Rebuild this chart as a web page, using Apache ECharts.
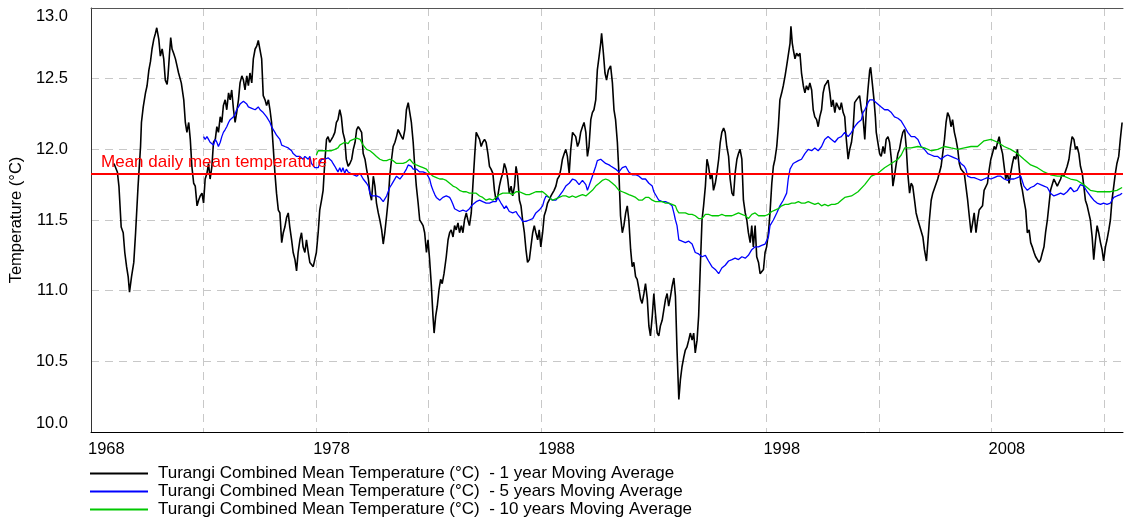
<!DOCTYPE html>
<html>
<head>
<meta charset="utf-8">
<title>Turangi Combined Mean Temperature</title>
<script src="https://cdn.jsdelivr.net/npm/echarts@6/dist/echarts.min.js"></script>
<style>
  html, body { margin: 0; padding: 0; background: #fff; }
  #chart { width: 1126px; height: 519px; }
</style>
</head>
<body>
<div id="chart"></div>
<script>
// Axis origin year and right-hand limit (in years after the origin)
const START_YEAR = 1968;
const X_SPAN = 45.84;
const MEAN_TEMP = 11.83;

const seriesNames = [
  'Turangi Combined Mean Temperature (°C)  - 1 year Moving Average',
  'Turangi Combined Mean Temperature (°C)  - 5 years Moving Average',
  'Turangi Combined Mean Temperature (°C)  - 10 years Moving Average'
];

// [decimal year, °C]
const avg1Year = [
[1969.02,11.90],[1969.17,11.84],[1969.24,11.74],[1969.34,11.45],[1969.43,11.41],[1969.50,11.27],[1969.58,11.17],[1969.65,11.10],[1969.71,10.99],[1969.80,11.10],[1969.90,11.20],[1969.98,11.41],[1970.09,11.74],[1970.20,12.02],[1970.24,12.19],[1970.32,12.30],[1970.42,12.40],[1970.49,12.45],[1970.57,12.56],[1970.64,12.62],[1970.71,12.71],[1970.79,12.78],[1970.86,12.82],[1970.92,12.86],[1971.01,12.78],[1971.08,12.66],[1971.16,12.71],[1971.23,12.64],[1971.30,12.49],[1971.38,12.46],[1971.42,12.52],[1971.48,12.66],[1971.54,12.79],[1971.60,12.71],[1971.67,12.68],[1971.75,12.64],[1971.82,12.59],[1971.89,12.54],[1972.01,12.47],[1972.12,12.35],[1972.19,12.19],[1972.26,12.12],[1972.34,12.19],[1972.41,12.07],[1972.48,11.88],[1972.56,11.76],[1972.63,11.74],[1972.71,11.60],[1972.78,11.64],[1972.85,11.67],[1972.93,11.69],[1973.00,11.62],[1973.07,11.79],[1973.15,11.83],[1973.22,11.90],[1973.29,11.79],[1973.37,11.88],[1973.44,12.05],[1973.52,12.07],[1973.59,12.16],[1973.66,12.12],[1973.74,12.23],[1973.81,12.19],[1973.88,12.31],[1973.96,12.35],[1974.03,12.28],[1974.11,12.40],[1974.18,12.35],[1974.25,12.42],[1974.33,12.28],[1974.40,12.19],[1974.47,12.26],[1974.55,12.35],[1974.62,12.47],[1974.70,12.52],[1974.77,12.49],[1974.84,12.42],[1974.92,12.52],[1974.99,12.45],[1975.06,12.54],[1975.14,12.47],[1975.21,12.64],[1975.29,12.71],[1975.36,12.73],[1975.43,12.77],[1975.51,12.78],[1975.58,12.64],[1975.65,12.38],[1975.73,12.35],[1975.80,12.31],[1975.88,12.35],[1975.95,12.28],[1976.02,12.19],[1976.10,12.00],[1976.17,11.83],[1976.24,11.69],[1976.32,11.57],[1976.39,11.55],[1976.47,11.34],[1976.54,11.41],[1976.61,11.45],[1976.69,11.52],[1976.76,11.55],[1976.83,11.45],[1976.91,11.36],[1976.98,11.27],[1977.06,11.22],[1977.13,11.14],[1977.20,11.27],[1977.28,11.36],[1977.35,11.41],[1977.42,11.31],[1977.50,11.27],[1977.57,11.36],[1977.65,11.27],[1977.72,11.20],[1977.79,11.20],[1977.87,11.17],[1977.94,11.22],[1978.01,11.27],[1978.09,11.41],[1978.16,11.57],[1978.24,11.64],[1978.31,11.71],[1978.38,11.90],[1978.46,12.07],[1978.53,12.09],[1978.60,12.05],[1978.68,12.07],[1978.75,12.09],[1978.83,12.12],[1978.90,12.19],[1978.97,12.21],[1979.05,12.28],[1979.12,12.23],[1979.19,12.12],[1979.27,12.07],[1979.34,11.93],[1979.42,11.88],
[1979.50,11.90],[1979.58,11.93],[1979.65,12.00],[1979.73,12.05],[1979.80,12.14],[1979.87,12.16],[1979.95,12.14],[1980.02,12.12],[1980.09,11.97],[1980.17,11.93],[1980.24,11.86],[1980.32,11.79],[1980.39,11.69],[1980.46,11.64],[1980.54,11.81],[1980.61,11.74],[1980.68,11.62],[1980.76,11.55],[1980.83,11.50],[1980.91,11.43],[1980.98,11.33],[1981.05,11.41],[1981.13,11.53],[1981.20,11.64],[1981.27,11.81],[1981.35,11.93],[1981.42,12.02],[1981.50,12.05],[1981.57,12.09],[1981.64,12.14],[1981.72,12.14],[1981.79,12.09],[1981.86,12.07],[1981.94,12.14],[1982.01,12.28],[1982.09,12.33],[1982.16,12.26],[1982.23,12.19],[1982.31,12.05],[1982.38,11.88],[1982.45,11.74],[1982.53,11.62],[1982.60,11.50],[1982.68,11.48],[1982.75,11.46],[1982.82,11.41],[1982.90,11.27],[1982.97,11.36],[1983.04,11.22],[1983.12,11.03],[1983.19,10.82],[1983.24,10.70],[1983.31,10.82],[1983.38,10.89],[1983.46,11.01],[1983.53,11.08],[1983.60,11.05],[1983.68,11.12],[1983.78,11.24],[1983.86,11.36],[1983.93,11.41],[1984.00,11.43],[1984.08,11.38],[1984.15,11.46],[1984.22,11.43],[1984.30,11.48],[1984.37,11.41],[1984.45,11.46],[1984.52,11.41],[1984.59,11.50],[1984.67,11.55],[1984.74,11.50],[1984.81,11.46],[1984.89,11.55],[1984.96,11.74],[1985.04,11.95],[1985.11,12.12],[1985.18,12.12],[1985.26,12.07],[1985.33,12.02],[1985.40,12.05],[1985.48,12.07],[1985.55,12.05],[1985.63,11.97],[1985.70,11.88],[1985.77,11.86],[1985.85,11.83],[1985.92,11.71],[1985.99,11.64],[1986.07,11.67],[1986.14,11.74],[1986.21,11.79],[1986.29,11.83],[1986.36,11.90],[1986.44,11.86],[1986.51,11.79],[1986.58,11.69],[1986.66,11.74],[1986.73,11.67],[1986.81,11.74],[1986.88,11.88],[1986.95,11.81],[1987.03,11.64],[1987.10,11.60],[1987.17,11.50],[1987.25,11.41],[1987.32,11.29],[1987.39,11.20],[1987.47,11.22],[1987.54,11.31],[1987.62,11.41],[1987.69,11.46],[1987.76,11.41],[1987.84,11.36],[1987.91,11.43],[1987.98,11.31],[1988.06,11.41],[1988.13,11.53],[1988.21,11.57],[1988.28,11.62],[1988.35,11.64],[1988.43,11.67],[1988.50,11.69],[1988.57,11.71],[1988.65,11.74],[1988.72,11.79],[1988.80,11.81],[1988.87,11.86],[1988.94,11.93],[1989.02,11.97],[1989.09,12.00],[1989.16,11.95],[1989.24,11.83],[1989.31,12.00],[1989.39,12.12],[1989.46,12.12],[1989.53,12.09],[1989.61,12.02],[1989.68,12.05],[1989.75,12.12],[1989.83,12.16],[1989.90,12.19],[1989.98,12.12],[1990.05,11.95],[1990.12,12.02],[1990.20,12.21],[1990.27,12.26],[1990.34,12.28],[1990.42,12.35],[1990.49,12.56],[1990.57,12.66],[1990.64,12.75],[1990.68,12.82],[1990.76,12.68],[1990.83,12.54],[1990.90,12.49],[1990.98,12.56],[1991.08,12.59],
[1991.16,12.47],[1991.23,12.28],[1991.30,12.21],[1991.38,12.05],[1991.45,11.83],[1991.52,11.53],[1991.60,11.41],[1991.67,11.46],[1991.75,11.55],[1991.82,11.60],[1991.89,11.50],[1991.97,11.29],[1992.04,11.17],[1992.11,11.20],[1992.19,11.10],[1992.26,11.08],[1992.34,11.01],[1992.41,10.94],[1992.48,10.91],[1992.56,10.98],[1992.63,11.05],[1992.71,10.94],[1992.78,10.75],[1992.85,10.68],[1992.93,10.82],[1993.00,10.98],[1993.07,10.84],[1993.15,10.70],[1993.22,10.68],[1993.29,10.75],[1993.37,10.79],[1993.44,10.86],[1993.52,10.94],[1993.59,10.98],[1993.66,10.89],[1993.74,10.96],[1993.81,11.03],[1993.89,11.09],[1993.96,10.96],[1994.03,10.58],[1994.11,10.23],[1994.18,10.37],[1994.25,10.46],[1994.33,10.53],[1994.40,10.58],[1994.47,10.60],[1994.55,10.65],[1994.62,10.70],[1994.70,10.65],[1994.77,10.70],[1994.84,10.56],[1994.92,10.65],[1994.99,10.82],[1995.06,11.15],
[1995.14,11.50],[1995.21,11.60],[1995.29,11.74],[1995.36,11.93],[1995.43,11.88],[1995.51,11.79],[1995.58,11.83],[1995.65,11.71],[1995.73,11.76],[1995.80,11.83],[1995.88,11.93],[1995.95,12.05],[1996.02,12.12],[1996.10,12.15],[1996.17,12.12],[1996.24,12.02],[1996.32,11.95],[1996.39,11.79],[1996.47,11.69],[1996.54,11.67],[1996.61,11.83],[1996.69,11.93],[1996.76,11.97],[1996.83,12.00],[1996.91,11.93],[1996.98,11.64],[1997.06,11.55],[1997.13,11.50],[1997.20,11.41],[1997.28,11.34],[1997.35,11.46],[1997.42,11.31],[1997.50,11.46],[1997.57,11.24],[1997.65,11.20],[1997.72,11.12],[1997.79,11.11],[1997.87,11.15],[1997.94,11.27],[1998.01,11.31],[1998.09,11.41],[1998.16,11.55],[1998.24,11.76],[1998.31,11.88],[1998.38,11.93],[1998.46,12.02],[1998.53,12.16],[1998.60,12.35],[1998.68,12.40],[1998.75,12.45],[1998.83,12.52],[1998.90,12.59],[1998.97,12.59],[1999.05,12.75],[1999.09,12.87],[1999.15,12.75],[1999.19,12.71],[1999.27,12.64],[1999.34,12.68],[1999.42,12.66],[1999.49,12.68],[1999.56,12.54],[1999.64,12.45],[1999.71,12.40],[1999.78,12.45],[1999.86,12.42],[1999.93,12.47],[2000.01,12.42],[2000.08,12.28],[2000.15,12.23],[2000.23,12.21],[2000.30,12.16],[2000.37,12.23],[2000.45,12.28],[2000.52,12.40],[2000.59,12.45],[2000.67,12.47],[2000.74,12.49],[2000.82,12.40],[2000.89,12.30],[2000.96,12.35],[2001.04,12.26],[2001.11,12.33],[2001.19,12.30],[2001.26,12.28],[2001.33,12.33],[2001.41,12.26],[2001.48,12.23],[2001.55,12.07],[2001.63,11.93],[2001.70,12.00],[2001.78,12.05],[2001.85,12.14],[2001.92,12.33],[2002.00,12.35],[2002.07,12.35],[2002.14,12.38],[2002.22,12.28],[2002.29,12.23],[2002.37,12.07],[2002.44,12.28],[2002.51,12.42],[2002.59,12.56],[2002.63,12.58],[2002.69,12.49],[2002.78,12.35],[2002.84,12.23],[2002.88,12.12],[2002.95,12.05],[2003.03,11.97],[2003.10,11.95],[2003.18,12.02],[2003.25,11.97],[2003.32,12.07],[2003.40,12.09],[2003.47,12.05],[2003.55,11.93],[2003.62,11.74],[2003.69,11.81],[2003.77,11.90],[2003.84,11.97],[2003.91,12.00],[2003.99,12.07],[2004.06,12.12],[2004.14,12.14],[2004.21,12.02],[2004.28,11.83],[2004.36,11.69],[2004.43,11.76],[2004.50,11.74],[2004.58,11.64],[2004.65,11.55],[2004.73,11.50],[2004.80,11.50],[2004.95,11.38],[2005.02,11.29],[2005.11,11.21],[2005.17,11.34],[2005.24,11.50],[2005.32,11.64],[2005.39,11.69],[2005.46,11.69],[2005.61,11.79],[2005.76,11.88],[2005.91,12.07],[2005.98,12.19],[2006.05,12.26],[2006.13,12.23],[2006.20,12.16],[2006.27,12.21],[2006.35,12.12],[2006.42,12.07],[2006.50,12.00],[2006.57,11.90],[2006.64,11.86],[2006.79,11.83],[2006.86,11.83],[2006.94,11.64],[2007.01,11.53],[2007.09,11.41],[2007.16,11.48],[2007.23,11.55],[2007.31,11.41],[2007.38,11.50],[2007.45,11.57],[2007.60,11.60],[2007.67,11.71],[2007.82,11.76],[2007.90,11.86],[2007.97,11.93],[2008.04,11.97],[2008.12,12.02],[2008.19,12.00],[2008.27,12.05],[2008.34,12.09],[2008.41,12.02],[2008.49,11.97],[2008.56,11.88],[2008.63,11.79],[2008.71,11.83],[2008.78,11.76],[2008.85,11.83],[2008.93,11.90],[2009.00,11.95],[2009.08,11.93],[2009.15,12.00],[2009.22,11.88],[2009.30,11.76],[2009.37,11.71],[2009.44,11.64],[2009.52,11.57],[2009.59,11.41],[2009.67,11.43],[2009.74,11.34],[2009.81,11.31],[2009.89,11.27],[2009.96,11.24],[2010.04,11.22],[2010.11,11.20],[2010.18,11.22],[2010.26,11.27],[2010.33,11.31],[2010.40,11.41],[2010.48,11.50],[2010.62,11.71],[2010.77,11.79],[2010.92,11.74],[2011.07,11.79],[2011.14,11.83],[2011.21,11.81],[2011.36,11.88],[2011.44,11.93],[2011.51,12.02],[2011.58,12.09],[2011.66,12.07],[2011.73,12.00],[2011.80,12.02],[2011.88,11.97],[2011.95,11.88],[2012.03,11.83],[2012.10,11.74],[2012.17,11.64],[2012.25,11.60],[2012.32,11.55],[2012.39,11.50],[2012.47,11.38],[2012.54,11.22],[2012.62,11.36],[2012.69,11.46],[2012.76,11.41],[2012.84,11.34],[2012.91,11.29],[2012.98,11.21],[2013.06,11.31],[2013.13,11.36],[2013.21,11.43],[2013.28,11.50],[2013.35,11.64],[2013.43,11.74],[2013.50,11.83],[2013.57,11.90],[2013.65,11.95],[2013.72,12.07],[2013.80,12.19]
];

const avg5Years = [
[1973.00,12.09],[1973.07,12.07],[1973.15,12.09],[1973.22,12.07],[1973.29,12.05],[1973.37,12.05],[1973.44,12.03],[1973.52,12.07],[1973.59,12.05],[1973.66,12.02],[1973.74,12.05],[1973.81,12.09],[1973.88,12.12],[1973.96,12.14],[1974.03,12.16],[1974.11,12.19],[1974.18,12.21],[1974.25,12.21],[1974.33,12.23],[1974.40,12.25],[1974.47,12.28],[1974.55,12.30],[1974.62,12.32],[1974.70,12.33],[1974.77,12.34],[1974.84,12.33],[1974.92,12.32],[1974.99,12.30],[1975.06,12.30],[1975.14,12.29],[1975.21,12.28],[1975.29,12.28],[1975.36,12.29],[1975.43,12.30],[1975.51,12.28],[1975.58,12.27],[1975.65,12.26],[1975.73,12.25],[1975.80,12.23],[1975.88,12.22],[1975.95,12.19],[1976.02,12.16],[1976.10,12.15],[1976.17,12.12],[1976.24,12.10],[1976.32,12.09],[1976.39,12.07],[1976.47,12.03],[1976.54,12.02],[1976.61,12.02],[1976.69,12.02],[1976.76,12.01],[1976.83,12.00],[1976.91,11.99],[1976.98,11.97],[1977.06,11.96],[1977.13,11.95],[1977.20,11.94],[1977.28,11.95],[1977.35,11.94],[1977.42,11.93],[1977.50,11.95],[1977.57,11.94],[1977.65,11.93],[1977.72,11.95],[1977.79,11.90],[1977.87,11.89],[1977.94,11.87],[1978.01,11.88],[1978.09,11.87],[1978.16,11.90],[1978.24,11.93],[1978.31,11.93],[1978.38,11.93],[1978.46,11.93],[1978.53,11.94],[1978.60,11.93],[1978.68,11.92],[1978.75,11.90],[1978.83,11.88],[1978.90,11.86],[1978.97,11.84],[1979.05,11.87],[1979.12,11.84],[1979.19,11.87],[1979.27,11.83],[1979.34,11.86],[1979.42,11.84],
[1979.50,11.83],[1979.65,11.82],[1979.80,11.81],[1979.95,11.83],[1980.09,11.79],[1980.24,11.76],[1980.32,11.74],[1980.39,11.69],[1980.46,11.67],[1980.54,11.68],[1980.68,11.67],[1980.83,11.66],[1980.98,11.63],[1981.05,11.64],[1981.13,11.67],[1981.20,11.70],[1981.27,11.73],[1981.35,11.75],[1981.42,11.76],[1981.57,11.81],[1981.72,11.79],[1981.86,11.82],[1982.01,11.86],[1982.09,11.89],[1982.16,11.90],[1982.23,11.88],[1982.31,11.86],[1982.45,11.86],[1982.60,11.84],[1982.75,11.84],[1982.90,11.83],[1982.97,11.81],[1983.04,11.79],[1983.12,11.74],[1983.19,11.71],[1983.27,11.68],[1983.34,11.66],[1983.49,11.64],[1983.63,11.66],[1983.78,11.67],[1983.93,11.66],[1984.00,11.64],[1984.08,11.61],[1984.15,11.58],[1984.22,11.57],[1984.37,11.56],[1984.52,11.57],[1984.67,11.56],[1984.81,11.58],[1984.96,11.61],[1985.11,11.63],[1985.26,11.64],[1985.40,11.63],[1985.55,11.62],[1985.70,11.62],[1985.85,11.63],[1985.99,11.63],[1986.07,11.66],[1986.14,11.64],[1986.21,11.62],[1986.29,11.60],[1986.36,11.58],[1986.44,11.60],[1986.58,11.56],[1986.73,11.55],[1986.88,11.56],[1986.95,11.54],[1987.03,11.53],[1987.10,11.51],[1987.17,11.49],[1987.25,11.48],[1987.32,11.49],[1987.47,11.50],[1987.62,11.51],[1987.76,11.55],[1987.91,11.57],[1988.06,11.60],[1988.13,11.64],[1988.21,11.67],[1988.35,11.66],[1988.50,11.64],[1988.65,11.64],[1988.80,11.67],[1988.94,11.70],[1989.09,11.74],[1989.24,11.76],[1989.39,11.79],[1989.53,11.78],[1989.68,11.75],[1989.83,11.78],[1989.90,11.79],[1989.98,11.75],[1990.05,11.71],[1990.12,11.74],[1990.27,11.81],[1990.42,11.88],[1990.49,11.92],[1990.57,11.93],[1990.64,11.93],[1990.71,11.92],[1990.86,11.90],[1991.01,11.89],[1991.10,11.88],
[1991.30,11.86],[1991.45,11.84],[1991.60,11.87],[1991.75,11.88],[1991.89,11.84],[1992.04,11.82],[1992.19,11.82],[1992.34,11.81],[1992.48,11.79],[1992.63,11.79],[1992.78,11.76],[1992.93,11.74],[1993.00,11.70],[1993.07,11.69],[1993.22,11.64],[1993.37,11.63],[1993.52,11.63],[1993.66,11.62],[1993.81,11.60],[1993.89,11.55],[1993.96,11.50],[1994.03,11.46],[1994.11,11.36],[1994.25,11.35],[1994.40,11.34],[1994.55,11.35],[1994.70,11.33],[1994.84,11.27],[1994.99,11.26],
[1995.14,11.24],[1995.29,11.25],[1995.43,11.21],[1995.58,11.17],[1995.73,11.15],[1995.88,11.12],[1996.02,11.16],[1996.17,11.18],[1996.32,11.21],[1996.47,11.22],[1996.61,11.23],[1996.76,11.22],[1996.91,11.24],[1997.06,11.23],[1997.20,11.25],[1997.35,11.29],[1997.50,11.31],[1997.65,11.31],[1997.79,11.32],[1997.94,11.33],[1998.09,11.38],[1998.16,11.46],[1998.31,11.50],[1998.46,11.55],[1998.60,11.60],[1998.75,11.64],[1998.90,11.69],[1998.97,11.79],[1999.05,11.86],[1999.12,11.88],[1999.19,11.90],[1999.42,11.92],[1999.56,11.93],[1999.71,11.97],[1999.86,12.00],[2000.01,11.99],[2000.15,12.01],[2000.30,11.99],[2000.45,12.02],[2000.59,12.07],[2000.74,12.09],[2000.89,12.07],[2001.04,12.05],[2001.19,12.08],[2001.33,12.09],[2001.48,12.12],[2001.63,12.09],[2001.78,12.12],[2001.92,12.16],[2002.07,12.19],[2002.22,12.21],[2002.29,12.26],[2002.37,12.28],[2002.44,12.30],[2002.51,12.33],[2002.59,12.35],[2002.66,12.36],[2002.73,12.35],[2002.81,12.34],[2002.88,12.33],[2002.95,12.34],[2003.10,12.30],[2003.25,12.28],[2003.40,12.28],[2003.55,12.26],[2003.69,12.23],[2003.84,12.22],[2003.99,12.20],[2004.14,12.16],[2004.28,12.12],[2004.43,12.09],[2004.58,12.09],[2004.73,12.07],[2004.87,12.02],[2005.02,12.00],[2005.17,11.97],[2005.32,11.96],[2005.46,11.95],[2005.61,11.95],[2005.76,11.93],[2005.91,11.95],[2006.05,11.96],[2006.20,11.95],[2006.35,11.94],[2006.50,11.93],[2006.64,11.90],[2006.79,11.88],[2006.86,11.86],[2006.94,11.81],[2007.09,11.80],[2007.23,11.80],[2007.38,11.79],[2007.53,11.78],[2007.67,11.79],[2007.82,11.80],[2007.97,11.79],[2008.12,11.80],[2008.27,11.81],[2008.41,11.81],[2008.56,11.79],[2008.71,11.78],[2008.85,11.79],[2009.00,11.79],[2009.15,11.80],[2009.30,11.81],[2009.44,11.74],[2009.59,11.71],[2009.74,11.73],[2009.89,11.74],[2010.04,11.76],[2010.18,11.75],[2010.33,11.74],[2010.48,11.73],[2010.62,11.69],[2010.77,11.67],[2010.92,11.68],[2011.07,11.69],[2011.21,11.68],[2011.36,11.70],[2011.51,11.73],[2011.66,11.70],[2011.80,11.71],[2011.95,11.75],[2012.10,11.74],[2012.25,11.70],[2012.39,11.67],[2012.54,11.64],[2012.69,11.62],[2012.84,11.61],[2012.98,11.62],[2013.13,11.61],[2013.28,11.62],[2013.43,11.66],[2013.57,11.67],[2013.72,11.68],[2013.80,11.69]
];

const avg10Years = [
[1978.01,11.96],[1978.09,11.99],[1978.16,12.00],[1978.24,11.99],[1978.31,12.00],[1978.38,11.99],[1978.53,11.99],[1978.68,11.99],[1978.83,12.00],[1978.97,12.01],[1979.05,12.03],[1979.12,12.04],[1979.27,12.05],[1979.42,12.04],[1979.50,12.06],[1979.65,12.07],[1979.80,12.08],[1979.95,12.07],[1980.09,12.03],[1980.24,12.00],[1980.39,11.99],[1980.54,11.97],[1980.68,11.95],[1980.83,11.93],[1980.98,11.92],[1981.13,11.92],[1981.27,11.93],[1981.42,11.92],[1981.57,11.90],[1981.72,11.90],[1981.86,11.90],[1982.01,11.91],[1982.16,11.93],[1982.31,11.90],[1982.45,11.89],[1982.60,11.88],[1982.75,11.87],[1982.90,11.86],[1983.04,11.83],[1983.19,11.81],[1983.34,11.80],[1983.49,11.79],[1983.63,11.79],[1983.78,11.78],[1983.93,11.76],[1984.08,11.74],[1984.22,11.73],[1984.37,11.71],[1984.52,11.70],[1984.67,11.70],[1984.81,11.69],[1984.96,11.69],[1985.11,11.69],[1985.26,11.67],[1985.40,11.66],[1985.55,11.64],[1985.70,11.65],[1985.85,11.64],[1985.99,11.66],[1986.14,11.68],[1986.29,11.69],[1986.44,11.69],[1986.58,11.69],[1986.73,11.68],[1986.88,11.70],[1987.03,11.70],[1987.17,11.69],[1987.32,11.68],[1987.47,11.68],[1987.62,11.69],[1987.76,11.70],[1987.91,11.70],[1988.06,11.70],[1988.21,11.68],[1988.35,11.66],[1988.50,11.64],[1988.65,11.65],[1988.80,11.66],[1988.94,11.67],[1989.09,11.67],[1989.24,11.66],[1989.39,11.67],[1989.53,11.66],[1989.68,11.67],[1989.83,11.68],[1989.98,11.67],[1990.12,11.69],[1990.27,11.71],[1990.42,11.74],[1990.57,11.76],[1990.71,11.78],[1990.86,11.79],[1991.01,11.78],[1991.16,11.76],[1991.30,11.74],[1991.45,11.71],[1991.60,11.70],[1991.75,11.69],[1991.89,11.68],[1992.04,11.67],[1992.19,11.66],[1992.34,11.64],[1992.48,11.64],[1992.63,11.66],[1992.78,11.66],[1992.93,11.64],[1993.07,11.63],[1993.22,11.63],[1993.37,11.63],[1993.52,11.62],[1993.66,11.62],[1993.81,11.61],[1993.96,11.60],[1994.03,11.57],[1994.11,11.55],[1994.25,11.55],[1994.40,11.55],[1994.55,11.54],[1994.70,11.54],[1994.84,11.53],[1994.99,11.51],[1995.14,11.51],[1995.29,11.54],[1995.43,11.54],[1995.58,11.53],[1995.73,11.53],[1995.88,11.53],[1996.02,11.54],[1996.17,11.53],[1996.32,11.53],[1996.47,11.53],[1996.61,11.54],[1996.76,11.55],[1996.91,11.54],[1997.06,11.53],[1997.20,11.51],[1997.35,11.54],[1997.50,11.55],[1997.65,11.53],[1997.79,11.53],[1997.94,11.53],[1998.09,11.54],[1998.24,11.56],[1998.38,11.57],[1998.53,11.58],[1998.68,11.60],[1998.83,11.61],[1998.97,11.61],[1999.12,11.62],[1999.27,11.62],[1999.42,11.63],[1999.56,11.62],[1999.71,11.62],[1999.86,11.63],[2000.01,11.62],[2000.15,11.61],[2000.30,11.62],[2000.45,11.60],[2000.59,11.61],[2000.74,11.60],[2000.89,11.61],[2001.04,11.61],[2001.19,11.62],[2001.33,11.64],[2001.48,11.66],[2001.78,11.67],[2002.07,11.70],[2002.37,11.75],[2002.66,11.81],[2002.95,11.83],[2003.25,11.87],[2003.55,11.90],[2003.84,11.93],[2003.99,11.96],[2004.14,12.01],[2004.43,12.01],[2004.73,12.02],[2005.02,12.01],[2005.32,11.99],[2005.61,12.00],[2005.91,12.02],[2006.20,12.01],[2006.50,12.00],[2006.79,12.01],[2007.09,12.02],[2007.38,12.02],[2007.67,12.06],[2007.97,12.07],[2008.27,12.05],[2008.56,12.02],[2008.85,12.00],[2009.15,11.97],[2009.44,11.93],[2009.74,11.89],[2010.04,11.87],[2010.33,11.84],[2010.62,11.82],[2010.92,11.81],[2011.21,11.81],[2011.51,11.79],[2011.80,11.78],[2012.10,11.75],[2012.39,11.71],[2012.69,11.70],[2012.98,11.70],[2013.28,11.70],[2013.57,11.71],[2013.80,11.73]
];

// x values are plotted as years after START_YEAR so that 5-year ticks land on 1968, 1973, ...
const toAxis = (rows) => rows.map(([yr, t]) => [yr - START_YEAR, t]);

const FONT = '"Liberation Sans", Arial, sans-serif';
const gridDash = { color: '#c8c8c8', width: 1, type: [8, 6] };

const chart = echarts.init(document.getElementById('chart'), null, { renderer: 'canvas' });

const lineSeries = (name, rows, color, width) => ({
  name,
  type: 'line',
  xAxisIndex: 0,
  yAxisIndex: 0,
  data: toAxis(rows),
  symbol: 'none',
  showSymbol: false,
  smooth: false,
  lineStyle: { color, width },
  itemStyle: { color },
  emphasis: { disabled: true }
});

// One single-row legend per series, stacked under the x axis
const legendRow = (name, top) => ({
  data: [name],
  orient: 'horizontal',
  left: 90,
  top,
  padding: 0,
  itemWidth: 58,
  itemHeight: 12,
  icon: 'path://M0,5 L58,5 L58,7 L0,7 Z',
  textStyle: { fontFamily: FONT, fontSize: 17, color: '#000', padding: [0, 0, 0, 5] },
  selectedMode: false
});

chart.setOption({
  animation: false,
  backgroundColor: '#ffffff',
  textStyle: { fontFamily: FONT },
  grid: { left: 90, right: 0, top: 8, bottom: 87, containLabel: false },
  legend: [
    legendRow(seriesNames[0], 465),
    legendRow(seriesNames[1], 483),
    legendRow(seriesNames[2], 501)
  ],
  xAxis: [
    {
      type: 'value',
      position: 'bottom',
      min: 0,
      max: X_SPAN,
      interval: 5,
      axisLine: { show: true, onZero: false, lineStyle: { color: '#000', width: 1 } },
      axisTick: { show: false },
      splitLine: { show: true, showMaxLine: false, lineStyle: gridDash },
      axisLabel: {
        fontFamily: FONT,
        fontSize: 16.5,
        color: '#000',
        align: 'left',
        margin: 9,
        padding: [0, 0, 0, -3],
        formatter: (v) => (Math.round(v) % 10 === 0 && Math.abs(v - Math.round(v)) < 1e-6) ? String(START_YEAR + Math.round(v)) : ''
      }
    },
    {
      type: 'value',
      position: 'top',
      min: 0,
      max: X_SPAN,
      axisLine: { show: true, onZero: false, lineStyle: { color: '#555', width: 1 } },
      axisTick: { show: false },
      axisLabel: { show: false },
      splitLine: { show: false }
    }
  ],
  yAxis: {
    type: 'value',
    min: 10,
    max: 13,
    interval: 0.5,
    name: 'Temperature (°C)',
    nameLocation: 'middle',
    nameGap: 60,
    nameTextStyle: { fontFamily: FONT, fontSize: 16.5, color: '#000' },
    axisLine: { show: true, onZero: false, lineStyle: { color: '#333', width: 1 } },
    axisTick: { show: false },
    splitLine: { show: true, lineStyle: gridDash },
    axisLabel: {
      fontFamily: FONT,
      fontSize: 16.5,
      color: '#000',
      margin: 23,
      verticalAlignMaxLabel: 'top',
      verticalAlignMinLabel: 'bottom',
      formatter: (v) => v.toFixed(1)
    }
  },
  series: [
    lineSeries(seriesNames[0], avg1Year, '#000000', 1.6),
    lineSeries(seriesNames[1], avg5Years, '#0000ff', 1.3),
    lineSeries(seriesNames[2], avg10Years, '#00c800', 1.3),
    {
      name: 'mean',
      type: 'line',
      data: [],
      symbol: 'none',
      z: 5,
      markLine: {
        silent: true,
        symbol: ['none', 'none'],
        animation: false,
        lineStyle: { color: '#ff0000', width: 2, type: 'solid' },
        label: {
          show: true,
          position: 'insideStartTop',
          formatter: 'Mean daily mean temperature',
          color: '#ff0000',
          fontFamily: FONT,
          fontSize: 17,
          distance: [10, 3]
        },
        emphasis: { disabled: true },
        data: [{ yAxis: MEAN_TEMP }]
      }
    }
  ]
});
</script>
</body>
</html>
